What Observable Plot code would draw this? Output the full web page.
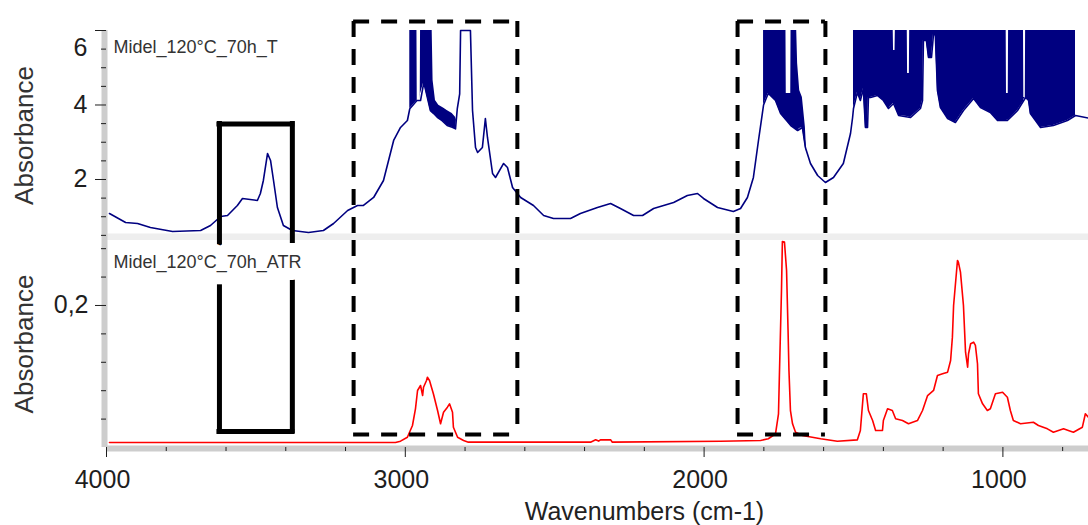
<!DOCTYPE html>
<html><head><meta charset="utf-8">
<script src="https://cdn.jsdelivr.net/npm/d3@7"></script>
<script src="https://cdn.jsdelivr.net/npm/@observablehq/plot@0.6"></script>
<style>body{margin:0;background:#fff}#chart{width:1088px;height:525px}</style>
</head><body><div id="chart"></div>
<script>
// ---------- text ----------
const seriesLabels = ["Midel_120°C_70h_T", "Midel_120°C_70h_ATR"];
const xTitle = "Wavenumbers (cm-1)";
const yTitle = "Absorbance";

// ---------- scales / ticks ----------
const xDomain = [4000, 713.5];
const xMajorTicks = [4000, 3000, 2000, 1000];
const xMinorTicks = [3800, 3600, 3400, 3200, 2800, 2600, 2400, 2200, 1800, 1600, 1400, 1200, 800];
const topDomain = [0.362, 6];
const topMajorTicks = [2, 4, 6];
const topMinorTicks = [0.5, 1, 1.5, 2.5, 3, 3.5, 4.5, 5, 5.5];
const bottomDomain = [0, 0.2915];
const bottomMajorTicks = [0.2];
const bottomMinorTicks = [0.04, 0.08, 0.12, 0.16, 0.24, 0.28];

// ---------- upper spectrum (transmission, absorbance) ----------
const tWn = [3990,3960,3936,3896,3853,3779,3685,3652,3618,3595,3562,3545,3495,3485,3475,3461,3451,3441,3428,3408,3378,3324,3274,3240,3193,3160,3140,3106,3073,3039,3016,2993,
  2985,2961,2949,2938,2916,2905,2893,2877,2860,2843,2832,2826,2818,2815,2782,
  2775,2765,2758,2742,2732,2725,2708,2698,2671,2658,2641,2614,2571,2537,2504,2447,2414,2357,2313,2280,2236,2206,2169,2102,2056,2022,2002,1955,1902,1878,1855,1835,1818,1805,
  1801,1791,1785,1761,1744,1724,1710,1687,1671,1661,1644,1620,1594,1567,1534,1510,1503,
  1500,1487,1477,1467,1460,1453,1450,1443,1420,1400,1383,1366,1349,1309,1276,1269,1266,1256,1249,1239,1232,1226,1219,1209,1185,1159,1132,1098,1075,1042,1018,985,951,924,914,908,874,831,784,757,714];
const tAbs = [1.087,0.953,0.846,0.819,0.711,0.604,0.631,0.765,1.007,1.034,1.302,1.49,1.436,1.624,1.973,2.698,2.51,1.973,1.248,0.765,0.631,0.577,0.631,0.819,1.168,1.302,1.302,1.517,1.973,3.047,3.396,3.584,
  3.9,4.12,4.12,4.61,3.85,3.77,3.67,3.58,3.45,3.40,3.36,3.9,4.3,6,6,
  3.852,2.859,2.725,2.859,3.638,3.128,2.161,2.054,2.43,2.322,1.785,1.517,1.302,1.034,0.953,0.953,1.087,1.248,1.356,1.221,1.034,1.034,1.221,1.383,1.57,1.624,1.49,1.248,1.141,1.221,1.517,2.054,3.047,3.772,
  4.0,4.2,4.309,4.121,3.772,3.584,3.45,3.315,3.396,2.859,2.43,2.107,1.919,2.054,2.43,3.235,3.664,
  3.906,4.336,4.121,4.443,3.396,3.396,4.2,4.2,4.255,4.121,3.906,4.04,3.718,3.664,3.906,4.121,5.732,5.732,5.275,5.275,5.919,5.866,4.389,3.933,3.638,3.53,3.852,4.174,3.933,3.799,3.584,3.584,3.852,4.201,4.121,3.772,3.396,3.45,3.584,3.718,3.65];

// saturated / noisy regions of the upper spectrum (lower and upper envelope)
const satSeg = [1,1,1,1,1,1,1,1,1,1,1,1,1,1,1,1,
  2,2,2,2,2,2,2,2,2,2,2,2,2,2,2,
  3,3,3,3,3,3,3,3,3,3,3,3,3,3,3,3,3,3,3,3,3,3,3,3,3,3,3,3,3,3,3,3,3,3,3,3,3,3,3,3,3,3,3,3,3,3,3,3,3,3,3,3,3];
const satWn = [2985,2961,2960,2950,2949,2938,2916,2910,2907,2899,2888,2871,2860,2843,2832,2829,
  1801,1791,1785,1761,1744,1726,1725,1710,1709,1690,1687,1680,1671,1661,1657,
  1500,1487,1477,1467,1460,1453,1450,1443,1420,1400,1383,1367,1366,1361,1360,1349,1320,1319,1313,1312,1309,1276,1269,1266,1256,1249,1239,1232,1226,1219,1209,1185,1159,1132,1098,1075,1042,1018,989,988,982,981,951,931,930,925,924,914,908,874,831,784,757,714];
const satLo = [3.9,4.12,4.12,4.12,4.3,4.61,3.85,3.8,3.78,3.72,3.63,3.55,3.45,3.40,3.36,3.6,
  4.0,4.2,4.309,4.121,3.772,3.584,3.584,3.45,3.45,3.33,3.315,3.37,3.396,2.859,2.75,
  3.906,4.336,4.121,4.443,3.396,3.396,4.2,4.2,4.255,4.121,3.906,4.04,4.04,4.0,3.95,3.718,3.69,3.69,3.67,3.67,3.664,3.906,4.121,5.732,5.732,5.275,5.275,5.919,5.866,4.389,3.933,3.638,3.53,3.852,4.174,3.933,3.799,3.584,3.584,3.584,3.6,3.6,3.852,4.1,4.15,4.2,4.201,4.121,3.772,3.396,3.45,3.584,3.718,3.65];
const satHi = [6,6,4.12,4.12,6,6,6,6,4.66,4.12,3.99,3.91,3.85,3.77,3.67,3.6,
  6,6,6,6,6,6,4.309,4.309,6,6,5.114,4.39,4.2,3.4,2.75,
  6,6,6,6,6,6,6,6,6,6,6,6,5.463,5.463,6,6,6,4.846,4.846,6,6,6,6,6,6,6,6,6,6,6,6,6,6,6,6,6,6,6,6,4.309,4.309,6,6,6,4.2,4.2,6,6,6,6,6,6,6,6];

// ---------- lower spectrum (ATR) ----------
const aWn = [3990,3033,3016,2993,2976,2966,2959,2949,2942,2939,2929,2926,2919,2906,2892,2882,2872,2859,2852,2842,2839,2825,2805,2789,2380,2363,2353,2347,2313,2307,1945,1811,1785,1761,1751,1748,1741,1738,1731,1724,1719,1716,1711,1704,1694,1671,1610,1554,1487,1477,1467,1457,1450,1436,1426,1403,1400,1386,1370,1359,1336,1316,1286,1269,1252,1232,1219,1202,1185,1175,1169,1165,1152,1149,1142,1132,1125,1118,1115,1108,1098,1092,1085,1082,1068,1052,1042,1025,1001,985,975,965,941,898,881,851,831,797,781,764,734,724,714];
const aAbs = [0.007,0.007,0.0089,0.0145,0.031,0.0545,0.0803,0.0873,0.0732,0.0849,0.0944,0.099,0.0944,0.0756,0.0521,0.0334,0.0497,0.0568,0.0615,0.0497,0.0286,0.0145,0.0099,0.0075,0.0075,0.0108,0.009,0.0108,0.0108,0.0075,0.0089,0.0099,0.0123,0.0193,0.0475,0.1014,0.2211,0.29,0.2892,0.2493,0.1648,0.1085,0.0521,0.0334,0.0215,0.0169,0.0123,0.0089,0.0108,0.0239,0.0756,0.0756,0.0521,0.038,0.0239,0.0239,0.038,0.0545,0.0521,0.0404,0.038,0.0334,0.038,0.0521,0.0732,0.0803,0.1014,0.1038,0.1061,0.1225,0.1554,0.2,0.2634,0.261,0.2469,0.2,0.1342,0.1131,0.132,0.1461,0.1483,0.1437,0.1179,0.0756,0.0615,0.0521,0.0545,0.0756,0.0779,0.0708,0.0521,0.038,0.0334,0.0356,0.031,0.0263,0.0215,0.0263,0.0239,0.0215,0.0286,0.0475,0.0427];

// ---------- highlighted regions ----------
const boxFrom = [3622, 3173, 1888];
const boxTo = [3378, 2625, 1594];
const boxTop = [3.49, 6.24, 6.24];        // in upper-panel absorbance
const boxBottom = [0.0225, 0.0183, 0.0183]; // in lower-panel absorbance
const boxKind = ["solid", "dashed", "dashed"];

// ---------- tables ----------
const topSpec = tWn.map((wn, i) => ({wn, abs: tAbs[i]}));
const sat = satWn.map((wn, i) => ({wn, lo: satLo[i], hi: satHi[i], seg: satSeg[i]}));
const atr = aWn.map((wn, i) => ({wn, abs: aAbs[i]}));
const boxes = boxFrom.map((from, i) => ({from, to: boxTo[i], top: boxTop[i], bottom: boxBottom[i], kind: boxKind[i]}));
const sides = boxes.flatMap(b => [{...b, x: b.from}, {...b, x: b.to}]);

const NAVY = "#000080", RED = "#ff0000", INK = "#1e1e1e", AXIS = "#cdcdcd";
const font = "Liberation Sans, Arial, Helvetica, sans-serif";
const boxStyle = k => k === "solid"
  ? {stroke: "#000", strokeWidth: 5, strokeLinecap: "square"}
  : {stroke: "#000", strokeWidth: 4, strokeDasharray: "16,12"};

function boxMarksTop() {
  return ["solid", "dashed"].flatMap(k => [
    Plot.ruleY(boxes.filter(b => b.kind === k), {y: "top", x1: "from", x2: "to", ...boxStyle(k)}),
    Plot.ruleX(sides.filter(b => b.kind === k), {x: "x", y1: "top", y2: () => topDomain[0], ...boxStyle(k)})
  ]);
}
function boxMarksBottom() {
  return ["solid", "dashed"].flatMap(k => [
    Plot.ruleX(sides.filter(b => b.kind === k), {x: "x", y1: () => bottomDomain[1], y2: "bottom", ...boxStyle(k)}),
    Plot.ruleY(boxes.filter(b => b.kind === k), {y: "bottom", x1: "from", x2: "to", ...boxStyle(k)})
  ]);
}

const topPlot = Plot.plot({
  width: 1088, height: 240,
  marginTop: 30, marginBottom: 0, marginLeft: 106, marginRight: 0,
  x: {domain: xDomain, axis: null},
  y: {domain: topDomain, label: null},
  style: {fontFamily: font, color: INK, background: "white"},
  marks: [
    Plot.ruleY([topDomain[0]], {stroke: "#eeeeee", strokeWidth: 7, dy: -3.5}),
    Plot.areaY(sat, {x: "wn", y1: "lo", y2: "hi", z: "seg", fill: NAVY}),
    Plot.line(topSpec, {x: "wn", y: "abs", stroke: NAVY, strokeWidth: 1.6}),
    ...boxMarksTop(),
    Plot.ruleX([xDomain[0]], {stroke: AXIS, strokeWidth: 6, dx: -2}),
    Plot.axisY({ticks: topMinorTicks, tickSize: 5, tickFormat: () => "", label: null}),
    Plot.axisY({ticks: topMajorTicks, tickSize: 11, tickPadding: 8, fontSize: 25, label: null,
      tickFormat: d => d < topDomain[1] ? String(d) : ""}),
    Plot.text(topMajorTicks.filter(d => d >= topDomain[1]), {y: d => d, text: d => String(d),
      frameAnchor: "left", textAnchor: "end", dx: -19, dy: 17, fontSize: 25, fill: INK}),
    Plot.text([seriesLabels[0]], {text: d => d, frameAnchor: "top-left", textAnchor: "start", lineAnchor: "middle",
      dx: 7, dy: 17, fontSize: 18, fill: "#333"}),
    Plot.text([yTitle], {text: d => d, frameAnchor: "left", textAnchor: "middle", lineAnchor: "middle",
      rotate: -90, dx: -82, fontSize: 26, fill: "#333"})
  ]
});

const bottomPlot = Plot.plot({
  width: 1088, height: 285,
  marginTop: 0, marginBottom: 78, marginLeft: 106, marginRight: 0,
  x: {domain: xDomain, label: null},
  y: {domain: bottomDomain, label: null},
  style: {fontFamily: font, color: INK, background: "white"},
  marks: [
    Plot.line(atr, {x: "wn", y: "abs", stroke: RED, strokeWidth: 1.6}),
    ...boxMarksBottom(),
    Plot.text([seriesLabels[1]], {text: d => d, frameAnchor: "top-left", textAnchor: "start", lineAnchor: "middle",
      dx: 7, dy: 22, fontSize: 18, fill: "#333", stroke: "white", strokeWidth: 24, strokeLinejoin: "round", paintOrder: "stroke"}),
    Plot.ruleX([xDomain[0]], {stroke: AXIS, strokeWidth: 6, dx: -2}),
    Plot.ruleY([bottomDomain[0]], {stroke: AXIS, strokeWidth: 6, dy: 1}),
    Plot.axisY({ticks: bottomMinorTicks, tickSize: 5, tickFormat: () => "", label: null}),
    Plot.axisY({ticks: bottomMajorTicks, tickSize: 11, tickPadding: 7, fontSize: 25, label: null,
      tickFormat: d => String(d).replace(".", ",")}),
    Plot.axisX({ticks: xMinorTicks, tickSize: 4, tickFormat: () => "", label: null}),
    Plot.axisX({ticks: xMajorTicks, tickSize: 10, tickFormat: () => "", label: null}),
    Plot.text(xMajorTicks, {x: d => d, text: d => String(d), frameAnchor: "bottom", lineAnchor: "middle",
      dy: 32, dx: -4, fontSize: 25, fill: INK}),
    Plot.text([yTitle], {text: d => d, frameAnchor: "left", textAnchor: "middle", lineAnchor: "middle",
      rotate: -90, dx: -82, fontSize: 26, fill: "#333"}),
    Plot.text([xTitle], {text: d => d, frameAnchor: "bottom", lineAnchor: "middle", dx: 47, dy: 64, fontSize: 25, fill: "#222"})
  ]
});

const chart = document.getElementById("chart");
chart.appendChild(topPlot);
chart.appendChild(bottomPlot);
</script>
</body></html>
